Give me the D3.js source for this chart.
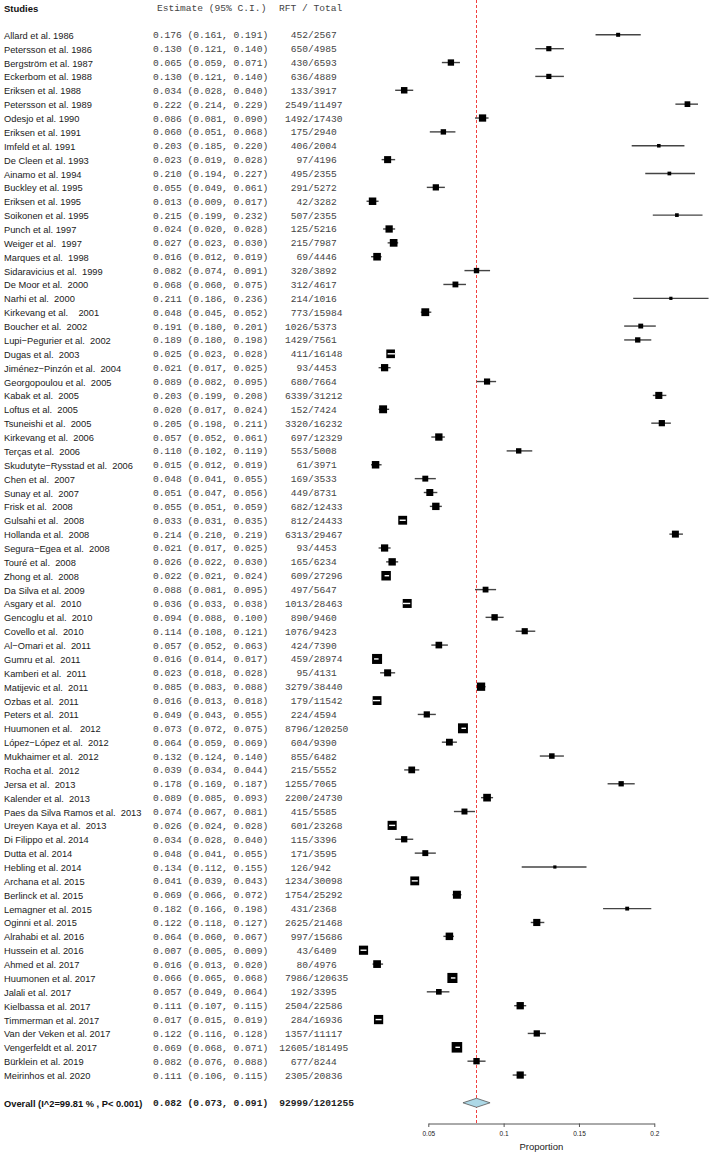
<!DOCTYPE html>
<html><head><meta charset="utf-8">
<script src="https://cdn.jsdelivr.net/npm/d3@7"></script>
<style>
html,body{margin:0;padding:0;background:#fff;}
text{white-space:pre;}
</style></head>
<body>
<script>
const studies = ["Allard et al. 1986","Petersson et al. 1986","Bergström et al. 1987","Eckerbom et al. 1988","Eriksen et al. 1988","Petersson et al. 1989","Odesjo et al. 1990","Eriksen et al. 1991","Imfeld et al. 1991","De Cleen et al. 1993","Ainamo et al. 1994","Buckley et al. 1995","Eriksen et al. 1995","Soikonen et al. 1995","Punch et al. 1997","Weiger et al.  1997","Marques et al.  1998","Sidaravicius et al.  1999","De Moor et al.  2000","Narhi et al.  2000","Kirkevang et al.    2001","Boucher et al.  2002","Lupi−Pegurier et al.  2002","Dugas et al.  2003","Jiménez−Pinzón et al.  2004","Georgopoulou et al.  2005","Kabak et al.  2005","Loftus et al.  2005","Tsuneishi et al.  2005","Kirkevang et al.  2006","Terças et al.  2006","Skudutyte−Rysstad et al.  2006","Chen et al.  2007","Sunay et al.  2007","Frisk et al.  2008","Gulsahi et al.  2008","Hollanda et al.  2008","Segura−Egea et al.  2008","Touré et al.  2008","Zhong et al.  2008","Da Silva et al. 2009","Asgary et al.  2010","Gencoglu et al.  2010","Covello et al.  2010","Al−Omari et al.  2011","Gumru et al.  2011","Kamberi et al.  2011","Matijevic et al.  2011","Ozbas et al.  2011","Peters et al.  2011","Huumonen et al.   2012","López−López et al.  2012","Mukhaimer et al.  2012","Rocha et al.  2012","Jersa et al.  2013","Kalender et al.  2013","Paes da Silva Ramos et al.  2013","Ureyen Kaya et al.  2013","Di Filippo et al. 2014","Dutta et al. 2014","Hebling et al. 2014","Archana et al. 2015","Berlinck et al. 2015","Lemagner et al. 2015","Oginni et al. 2015","Alrahabi et al. 2016","Hussein et al. 2016","Ahmed et al. 2017","Huumonen et al. 2017","Jalali et al. 2017","Kielbassa et al. 2017","Timmerman et al. 2017","Van der Veken et al. 2017","Vengerfeldt et al. 2017","Bürklein et al. 2019","Meirinhos et al. 2020"];
const estimate = [0.176,0.130,0.065,0.130,0.034,0.222,0.086,0.060,0.203,0.023,0.210,0.055,0.013,0.215,0.024,0.027,0.016,0.082,0.068,0.211,0.048,0.191,0.189,0.025,0.021,0.089,0.203,0.020,0.205,0.057,0.110,0.015,0.048,0.051,0.055,0.033,0.214,0.021,0.026,0.022,0.088,0.036,0.094,0.114,0.057,0.016,0.023,0.085,0.016,0.049,0.073,0.064,0.132,0.039,0.178,0.089,0.074,0.026,0.034,0.048,0.134,0.041,0.069,0.182,0.122,0.064,0.007,0.016,0.066,0.057,0.111,0.017,0.122,0.069,0.082,0.111];
const lower = [0.161,0.121,0.059,0.121,0.028,0.214,0.081,0.051,0.185,0.019,0.194,0.049,0.009,0.199,0.020,0.023,0.012,0.074,0.060,0.186,0.045,0.180,0.180,0.023,0.017,0.082,0.199,0.017,0.198,0.052,0.102,0.012,0.041,0.047,0.051,0.031,0.210,0.017,0.022,0.021,0.081,0.033,0.088,0.108,0.052,0.014,0.018,0.083,0.013,0.043,0.072,0.059,0.124,0.034,0.169,0.085,0.067,0.024,0.028,0.041,0.112,0.039,0.066,0.166,0.118,0.060,0.005,0.013,0.065,0.049,0.107,0.015,0.116,0.068,0.076,0.106];
const upper = [0.191,0.140,0.071,0.140,0.040,0.229,0.090,0.068,0.220,0.028,0.227,0.061,0.017,0.232,0.028,0.030,0.019,0.091,0.075,0.236,0.052,0.201,0.198,0.028,0.025,0.095,0.208,0.024,0.211,0.061,0.119,0.019,0.055,0.056,0.059,0.035,0.219,0.025,0.030,0.024,0.095,0.038,0.100,0.121,0.063,0.017,0.028,0.088,0.018,0.055,0.075,0.069,0.140,0.044,0.187,0.093,0.081,0.028,0.040,0.055,0.155,0.043,0.072,0.198,0.127,0.067,0.009,0.020,0.068,0.064,0.115,0.019,0.128,0.071,0.088,0.115];
const rft = [452,650,430,636,133,2549,1492,175,406,97,495,291,42,507,125,215,69,320,312,214,773,1026,1429,411,93,680,6339,152,3320,697,553,61,169,449,682,812,6313,93,165,609,497,1013,890,1076,424,459,95,3279,179,224,8796,604,855,215,1255,2200,415,601,115,171,126,1234,1754,431,2625,997,43,80,7986,192,2504,284,1357,12605,677,2305];
const total = [2567,4985,6593,4889,3917,11497,17430,2940,2004,4196,2355,5272,3282,2355,5216,7987,4446,3892,4617,1016,15984,5373,7561,16148,4453,7664,31212,7424,16232,12329,5008,3971,3533,8731,12433,24433,29467,4453,6234,27296,5647,28463,9460,9423,7390,28974,4131,38440,11542,4594,120250,9390,6482,5552,7065,24730,5585,23268,3396,3595,942,30098,25292,2368,21468,15686,6409,4976,120635,3395,22586,16936,11117,181495,8244,20836];
const overallLabel = "Overall (I^2=99.81 % , P< 0.001)";
const overallEst = 0.082, overallLower = 0.073, overallUpper = 0.091, overallRft = 92999, overallTotal = 1201255;
const tickValues = [0.05, 0.1, 0.15, 0.2];
const axisTitle = "Proportion";

const W = 709, H = 1152;
const svg = d3.select("body").append("svg").attr("width", W).attr("height", H);

const x = d3.scaleLinear().domain([0.05, 0.2]).range([428.3, 654.3]);
const y = d3.scaleLinear().domain([0, 1]).range([34.8, 48.67]);
const overallY = y(studies.length + 1);
const axisY = 1123.5;

const f3 = d => d.toFixed(3);
const sans = "'Liberation Sans', Arial, sans-serif";
const mono = "'Liberation Mono', 'Courier New', monospace";

// precision-based box size
const prec = rft.map((r, i) => { const p = r / total[i]; return 1 / Math.sqrt(p * (1 - p) / total[i]); });
const sizeScale = d3.scaleLog().domain([133, 1357]).range([4, 10]);
const size = v => Math.max(3.2, sizeScale(v));

// headers
svg.append("text").attr("x", 4).attr("y", 8).attr("dominant-baseline", "central")
  .attr("font-family", sans).attr("font-weight", "bold").attr("font-size", 9.5).attr("fill", "#111").text("Studies");
svg.append("text").attr("x", 157).attr("y", 8).attr("dominant-baseline", "central")
  .attr("font-family", mono).attr("font-size", 9.6).attr("fill", "#444").text("Estimate (95% C.I.)");
svg.append("text").attr("x", 279).attr("y", 8).attr("dominant-baseline", "central")
  .attr("font-family", mono).attr("font-size", 9.6).attr("fill", "#444").text("RFT / Total");

// reference line
svg.append("line").attr("x1", x(overallEst)).attr("x2", x(overallEst)).attr("y1", 0).attr("y2", axisY)
  .attr("stroke", "#f04040").attr("stroke-width", 1).attr("stroke-dasharray", "3,2");

const rows = svg.append("g").selectAll("g").data(studies).join("g");
rows.append("text").attr("x", 4).attr("y", (d, i) => y(i) + 1).attr("dominant-baseline", "central")
  .attr("font-family", sans).attr("font-size", 9.3).attr("fill", "#1a1a1a").text(d => d);
rows.append("text").attr("x", 153).attr("y", (d, i) => y(i) + 1).attr("dominant-baseline", "central")
  .attr("font-family", mono).attr("font-size", 9.6).attr("fill", "#444")
  .text((d, i) => `${f3(estimate[i])} (${f3(lower[i])}, ${f3(upper[i])})`);
rows.append("text").attr("x", 308).attr("y", (d, i) => y(i) + 1).attr("dominant-baseline", "central")
  .attr("text-anchor", "end").attr("font-family", mono).attr("font-size", 9.6).attr("fill", "#444")
  .text((d, i) => rft[i]);
rows.append("text").attr("x", 308).attr("y", (d, i) => y(i) + 1).attr("dominant-baseline", "central")
  .attr("font-family", mono).attr("font-size", 9.6).attr("fill", "#444")
  .text((d, i) => "/" + total[i]);

// CI lines
rows.append("line").attr("x1", (d, i) => x(lower[i])).attr("x2", (d, i) => x(upper[i]))
  .attr("y1", (d, i) => y(i)).attr("y2", (d, i) => y(i)).attr("stroke", "#444").attr("stroke-width", 1.4);
// boxes
rows.append("rect")
  .attr("x", (d, i) => x(estimate[i]) - size(prec[i]) / 2)
  .attr("y", (d, i) => y(i) - size(prec[i]) / 2)
  .attr("width", (d, i) => size(prec[i])).attr("height", (d, i) => size(prec[i]))
  .attr("fill", "#000");
// white CI inside large boxes
rows.each(function(d, i) {
  const s = size(prec[i]);
  if (x(upper[i]) - x(lower[i]) < s - 1) {
    d3.select(this).append("line").attr("x1", x(lower[i])).attr("x2", x(upper[i]))
      .attr("y1", y(i)).attr("y2", y(i)).attr("stroke", "#fff").attr("stroke-width", 1.4);
  }
});

// overall row
svg.append("text").attr("x", 4).attr("y", overallY + 1).attr("dominant-baseline", "central")
  .attr("font-family", sans).attr("font-weight", "bold").attr("font-size", 9.3).attr("fill", "#111").text(overallLabel);
svg.append("text").attr("x", 153).attr("y", overallY + 1).attr("dominant-baseline", "central")
  .attr("font-family", mono).attr("font-weight", "bold").attr("font-size", 9.6).attr("fill", "#222")
  .text(`${f3(overallEst)} (${f3(overallLower)}, ${f3(overallUpper)})`);
svg.append("text").attr("x", 308).attr("y", overallY + 1).attr("dominant-baseline", "central").attr("text-anchor", "end")
  .attr("font-family", mono).attr("font-weight", "bold").attr("font-size", 9.6).attr("fill", "#222").text(overallRft);
svg.append("text").attr("x", 308).attr("y", overallY + 1).attr("dominant-baseline", "central")
  .attr("font-family", mono).attr("font-weight", "bold").attr("font-size", 9.6).attr("fill", "#222").text("/" + overallTotal);
svg.append("path")
  .attr("d", `M${x(overallLower)},${overallY} L${x(overallEst)},${overallY - 4.5} L${x(overallUpper)},${overallY} L${x(overallEst)},${overallY + 4.5} Z`)
  .attr("fill", "#add8e6").attr("stroke", "#555").attr("stroke-width", 0.8);

// axis
const axis = d3.axisBottom(x).tickValues(tickValues).tickFormat(d => String(d)).tickSize(3.5).tickSizeOuter(0);
const ag = svg.append("g").attr("transform", `translate(0,${axisY})`).call(axis);
ag.select(".domain").attr("stroke", "#555");
ag.selectAll(".tick line").attr("stroke", "#555");
ag.selectAll(".tick text").attr("font-family", sans).attr("font-size", 6.5).attr("fill", "#222").attr("dy", "0.9em");
svg.append("text").attr("x", x(0.125)).attr("y", 1146).attr("dominant-baseline", "central").attr("text-anchor", "middle")
  .attr("font-family", sans).attr("font-size", 9.5).attr("fill", "#222").text(axisTitle);
</script>
</body></html>
